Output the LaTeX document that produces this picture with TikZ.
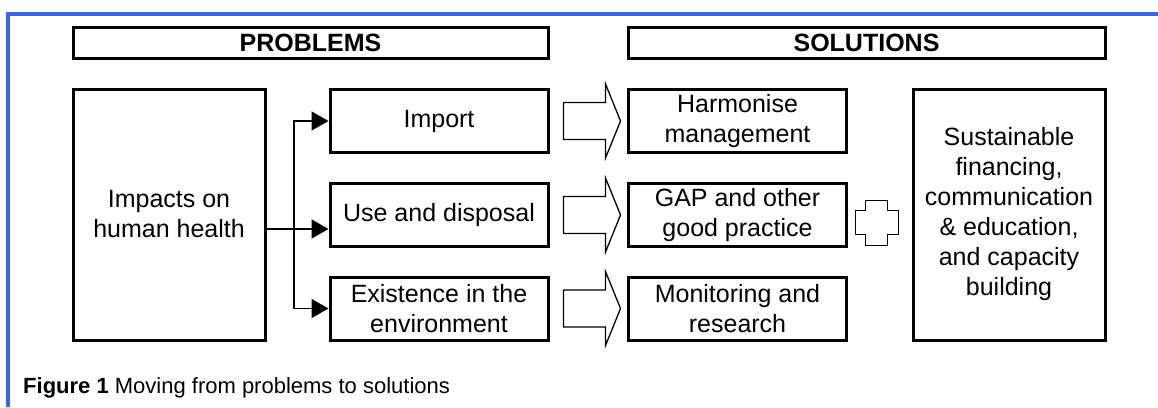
\documentclass[tikz,border=0pt]{standalone}
\usepackage{fontspec}
\setmainfont{Liberation Sans}
\usetikzlibrary{arrows.meta,calc}
\definecolor{framecol}{RGB}{58,102,235}

\begin{document}
\begin{tikzpicture}[x=1pt, y=-1pt,
		every node/.style={font=\fontsize{25}{30}\selectfont},
		hdr/.style={draw=black, line width=3pt, inner sep=0pt, minimum height=31pt, font=\fontsize{25}{30}\selectfont\bfseries},
		box/.style={draw=black, line width=3pt, align=center, inner sep=0pt, minimum width=218pt, minimum height=63pt},
		bigbox/.style={box, minimum width=192pt, minimum height=251pt},
		link/.style={line width=1.6pt, -{Triangle[length=17pt,width=19pt]}},
		fatarrow/.style={draw=black, line width=1.3pt, line join=miter}]
		\useasboundingbox (0,0) rectangle (1158,407);
		\draw [framecol, line width=4pt] (8,407) -- (8,14) -- (1158,14);
		
		\node [hdr, minimum width=475pt] (problems) at (310.5,42.5) {PROBLEMS};
		\node [hdr, minimum width=477pt] (solutions) at (866.5,42.5) {SOLUTIONS};
		
		\node [bigbox] (impacts) at (169,214.5) {Impacts on\\human health};
		\node [box] (import) at (439,121) {Import};
		\node [box] (use) at (439,215) {Use and disposal};
		\node [box] (exist) at (439,308.5) {Existence in the\\environment};
		
		\node [box] (harm) at (737.5,121) {Harmonise\\management};
		\node [box] (gap) at (737.5,215) {GAP and other\\good practice};
		\node [box] (monit) at (737.5,308.5) {Monitoring and\\research};
		\node [bigbox] (sust) at (1009,214.5) {Sustainable\\financing,\\communication\\\& education,\\and capacity\\building};
		
		\coordinate (fork) at (294,229);
		\draw [link] (impacts.east |- fork) -- (use.west |- fork);
		\draw [link] (fork) |- (import.west);
		\draw [link] (fork) |- (exist.west);
		
		\foreach \a in {import, use, exist}
			\draw [fatarrow] ($(\a.east)+(14,-18.5)$) -- ++(42,0) -- ++(0,-18.5) -- ++(15,37) -- ++(-15,37) -- ++(0,-18.5) -- ++(-42,0) -- cycle;
		
		\coordinate (plus) at ($(gap.east)!0.5!(sust.west)+(-3,8)$);
		\draw [fatarrow, shift={(plus)}] (-11,-22.5) -- (11,-22.5) -- (11,-12) -- (21.5,-12) -- (21.5,12) -- (11,12) -- (11,22.5) -- (-11,22.5) -- (-11,12) -- (-21.5,12) -- (-21.5,-12) -- (-11,-12) -- cycle;
		
		\node [anchor=base west, inner sep=0pt, font=\fontsize{22}{26}\selectfont] (caption) at (23,393) {\textbf{Figure 1} Moving from problems to solutions};
	\end{tikzpicture}
\end{document}
